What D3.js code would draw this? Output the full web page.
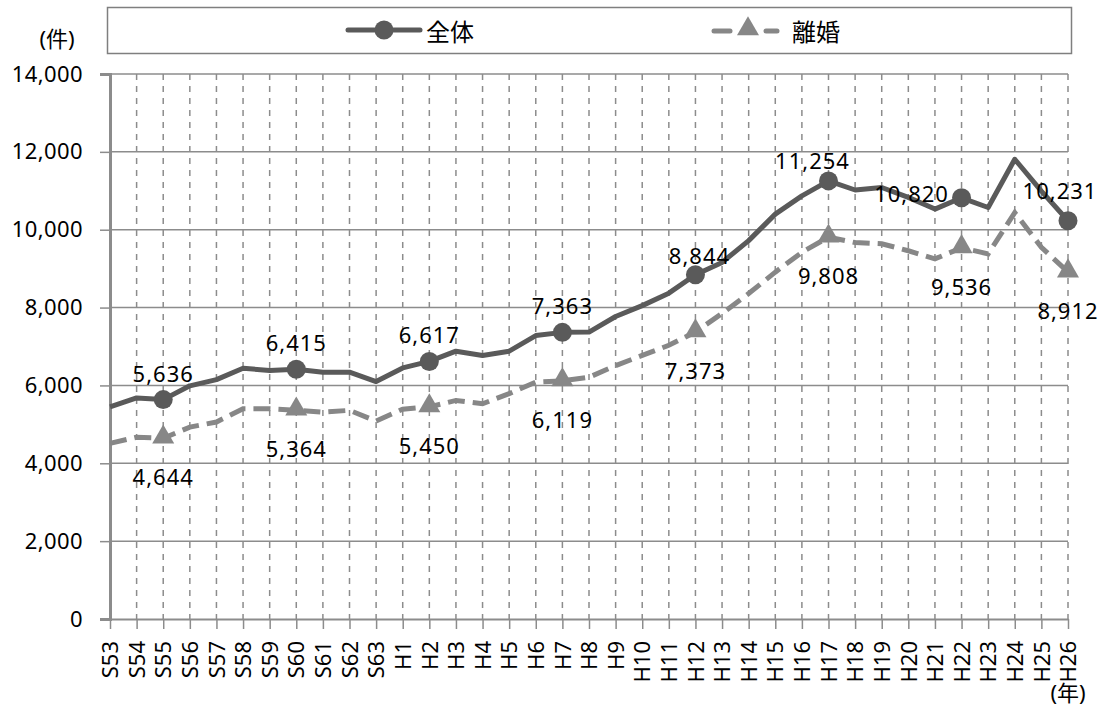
<!DOCTYPE html>
<html lang="ja">
<head>
<meta charset="UTF-8">
<title>件数の推移</title>
<script src="https://d3js.org/d3.v7.min.js"></script>
<style>
    body { margin: 0; background: #fff; }
    svg { display: block; font-family: "Noto Sans", "Noto Sans CJK JP", sans-serif; }
</style>
</head>
<body>
<svg id="chart" width="1104" height="708"></svg>
<script>
    // categories (years)
    const years = ['S53','S54','S55','S56','S57','S58','S59','S60','S61','S62','S63',
        'H1','H2','H3','H4','H5','H6','H7','H8','H9','H10','H11','H12','H13','H14','H15',
        'H16','H17','H18','H19','H20','H21','H22','H23','H24','H25','H26'];

    // 全体
    const total = [5450, 5680, 5636, 5990, 6150, 6440, 6385, 6415, 6340, 6340, 6100,
        6450, 6617, 6880, 6770, 6880, 7280, 7363, 7370, 7770, 8050, 8370, 8844, 9160, 9720, 10400,
        10870, 11254, 11020, 11085, 10830, 10530, 10820, 10570, 11810, 10990, 10231];

    // 離婚
    const divorce = [4510, 4670, 4644, 4930, 5060, 5400, 5400, 5364, 5315, 5360, 5085,
        5390, 5450, 5615, 5530, 5790, 6085, 6119, 6210, 6510, 6770, 7030, 7373, 7850, 8360, 8910,
        9420, 9808, 9670, 9640, 9460, 9250, 9536, 9380, 10440, 9550, 8912];

    const yTicks = [0, 2000, 4000, 6000, 8000, 10000, 12000, 14000];
    const markedYears = ['S55','S60','H2','H7','H12','H17','H22','H26'];

    const svg = d3.select('#chart');
    const plotLeft = 110, plotRight = 1068, plotTop = 74, plotBottom = 619;

    const x = d3.scalePoint().domain(years).range([plotLeft, plotRight]);
    const y = d3.scaleLinear().domain([0, 14000]).range([plotBottom, plotTop]);
    const fmt = d3.format(',');

    const gridColor = '#8c8c8c';
    const fontSize = 22;

    // horizontal grid
    svg.append('g').selectAll('line').data(yTicks.slice(1)).enter().append('line')
        .attr('x1', plotLeft).attr('x2', plotRight)
        .attr('y1', d => y(d)).attr('y2', d => y(d))
        .attr('stroke', gridColor).attr('stroke-width', 1.5);

    // vertical dashed grid
    svg.append('g').selectAll('line').data(years.slice(1)).enter().append('line')
        .attr('x1', d => x(d)).attr('x2', d => x(d))
        .attr('y1', plotTop).attr('y2', plotBottom)
        .attr('stroke', gridColor).attr('stroke-width', 1.5)
        .attr('stroke-dasharray', '6,6');

    // y axis
    const yAxis = svg.append('g').attr('transform', `translate(${plotLeft},0)`)
        .call(d3.axisLeft(y).tickValues(yTicks).tickFormat(fmt).tickSize(10).tickPadding(17));
    yAxis.select('.domain').attr('stroke', gridColor).attr('stroke-width', 3);
    yAxis.selectAll('.tick line').attr('stroke', gridColor).attr('stroke-width', 1.5);
    yAxis.selectAll('.tick text').attr('font-size', fontSize).attr('fill', '#000')
        .attr('letter-spacing', '0.4px')
        .attr('font-family', '"Noto Sans", sans-serif');

    // x axis
    const xAxis = svg.append('g').attr('transform', `translate(0,${plotBottom})`)
        .call(d3.axisBottom(x).tickSize(10).tickSizeOuter(0).tickPadding(4));
    xAxis.select('.domain').attr('stroke', gridColor).attr('stroke-width', 2);
    xAxis.selectAll('.tick line').attr('stroke', gridColor).attr('stroke-width', 1.5);
    xAxis.selectAll('.tick text')
        .attr('font-size', fontSize).attr('fill', '#000')
        .attr('font-family', '"Noto Sans", sans-serif')
        .attr('transform', 'rotate(-90)')
        .attr('text-anchor', 'end')
        .attr('dy', '0.35em')
        .attr('x', -22).attr('y', 0);

    // units
    svg.append('text').attr('x', 57).attr('y', 38).attr('text-anchor', 'middle')
        .attr('dominant-baseline', 'central').attr('font-size', 22).text('(件)');
    svg.append('text').attr('x', 1068).attr('y', 692).attr('text-anchor', 'middle')
        .attr('dominant-baseline', 'central').attr('font-size', 22).text('(年)');

    const totalColor = '#5a5a5a';
    const divColor = '#878787';

    const line = d3.line().x((d, i) => x(years[i])).y(d => y(d));

    svg.append('path').datum(divorce).attr('d', line)
        .attr('fill', 'none').attr('stroke', divColor).attr('stroke-width', 5)
        .attr('stroke-dasharray', '17,8');
    svg.append('path').datum(total).attr('d', line)
        .attr('fill', 'none').attr('stroke', totalColor).attr('stroke-width', 5)
        .attr('stroke-linejoin', 'round');

    const tri = d3.symbol().type(d3.symbolTriangle).size(210);

    const marked = years.map((yr, i) => ({ yr, i })).filter(d => markedYears.includes(d.yr));

    svg.append('g').selectAll('path').data(marked).enter().append('path')
        .attr('d', tri)
        .attr('transform', d => `translate(${x(d.yr)},${y(divorce[d.i]) - 1})`)
        .attr('fill', divColor);

    svg.append('g').selectAll('circle').data(marked).enter().append('circle')
        .attr('cx', d => x(d.yr)).attr('cy', d => y(total[d.i])).attr('r', 9.5)
        .attr('fill', totalColor);

    // data label placement
    const totalLabelShift = { H17: [-16, -21], H22: [-50, -5], H26: [-8, -31], H12: [4, -20] };
    const divLabelShift = {};

    svg.append('g').selectAll('text').data(marked).enter().append('text')
        .attr('x', d => x(d.yr) + (totalLabelShift[d.yr] ? totalLabelShift[d.yr][0] : 0))
        .attr('y', d => y(total[d.i]) + (totalLabelShift[d.yr] ? totalLabelShift[d.yr][1] : -27))
        .attr('text-anchor', 'middle').attr('dominant-baseline', 'central')
        .attr('letter-spacing', '1px')
        .attr('font-size', fontSize).text(d => fmt(total[d.i]));

    svg.append('g').selectAll('text').data(marked).enter().append('text')
        .attr('x', d => x(d.yr) + (divLabelShift[d.yr] ? divLabelShift[d.yr][0] : 0))
        .attr('y', d => y(divorce[d.i]) + (divLabelShift[d.yr] ? divLabelShift[d.yr][1] : 38))
        .attr('text-anchor', 'middle').attr('dominant-baseline', 'central')
        .attr('letter-spacing', '1px')
        .attr('font-size', fontSize).text(d => fmt(divorce[d.i]));

    // legend
    svg.append('rect').attr('x', 107.5).attr('y', 7.5).attr('width', 964).attr('height', 46)
        .attr('fill', '#fff').attr('stroke', '#7f7f7f').attr('stroke-width', 1.5);

    const lg = svg.append('g');
    lg.append('line').attr('x1', 348).attr('x2', 420).attr('y1', 30).attr('y2', 30)
        .attr('stroke', totalColor).attr('stroke-width', 5).attr('stroke-linecap', 'round');
    lg.append('circle').attr('cx', 384).attr('cy', 30).attr('r', 9.5).attr('fill', totalColor);
    lg.append('text').attr('x', 426).attr('y', 30).attr('dominant-baseline', 'central')
        .attr('font-size', 24).attr('font-family', '"Noto Sans CJK JP", sans-serif').text('全体');

    lg.append('line').attr('x1', 714).attr('x2', 730).attr('y1', 31).attr('y2', 31)
        .attr('stroke', divColor).attr('stroke-width', 5).attr('stroke-linecap', 'round');
    lg.append('line').attr('x1', 766).attr('x2', 777).attr('y1', 31).attr('y2', 31)
        .attr('stroke', divColor).attr('stroke-width', 5).attr('stroke-linecap', 'round');
    lg.append('path').attr('d', tri).attr('transform', 'translate(748,29)').attr('fill', divColor);
    lg.append('text').attr('x', 792).attr('y', 30).attr('dominant-baseline', 'central')
        .attr('font-size', 24).attr('font-family', '"Noto Sans CJK JP", sans-serif').text('離婚');
</script>
</body>
</html>
